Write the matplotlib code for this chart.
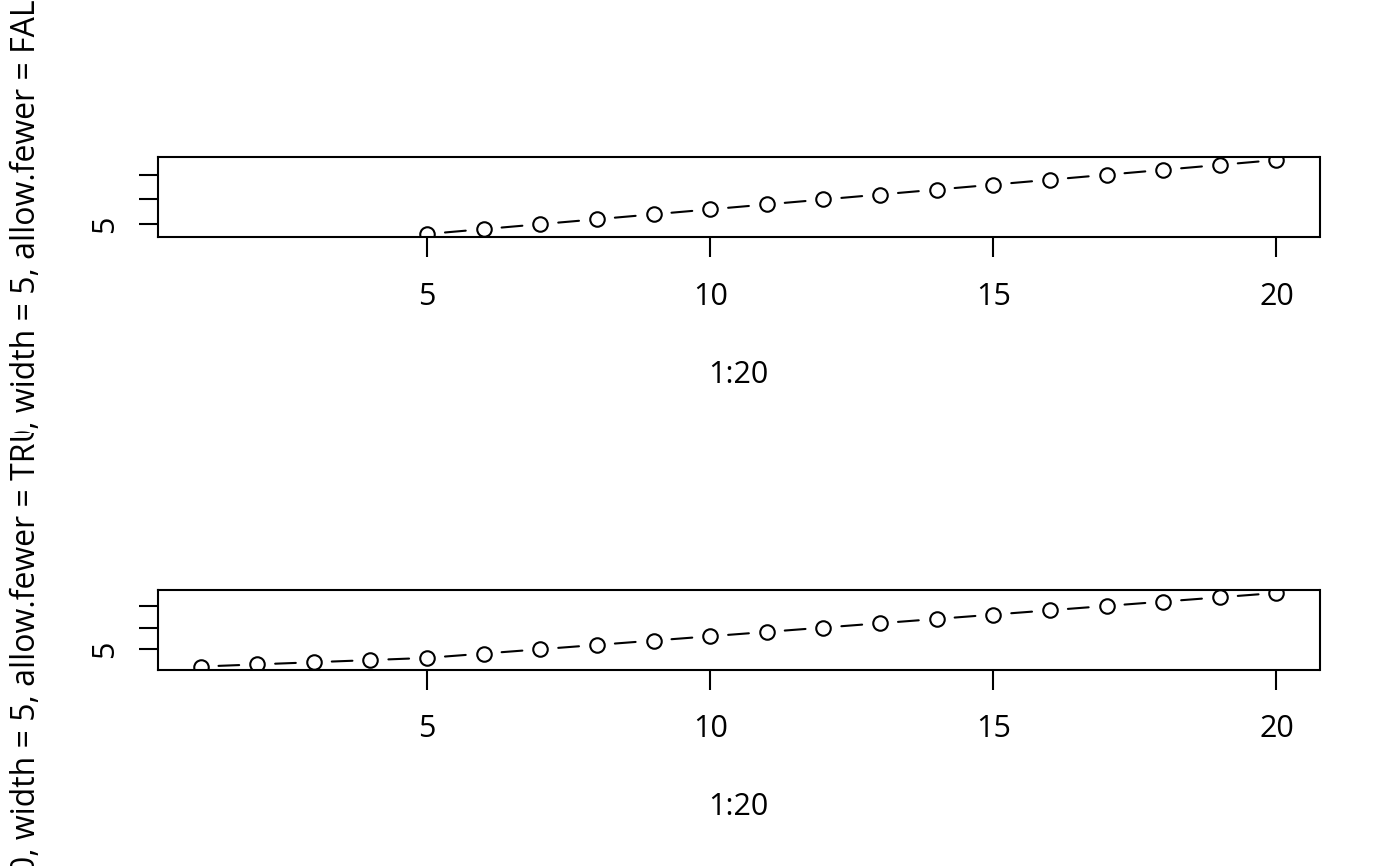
import numpy as np
import matplotlib
matplotlib.use("Agg")
import matplotlib.pyplot as plt
from matplotlib.transforms import Bbox, TransformedBbox

plt.rcParams['font.family'] = ['Open Sans', 'DejaVu Sans']

# ---- data ----
x = list(range(1, 21))
y_fewer_false = [np.nan, np.nan, np.nan, np.nan, 3, 4, 5, 6, 7, 8, 9, 10, 11, 12, 13, 14, 15, 16, 17, 18]
y_fewer_true = [1, 1.5, 2, 2.5, 3, 4, 5, 6, 7, 8, 9, 10, 11, 12, 13, 14, 15, 16, 17, 18]
x_ticks = [5, 10, 15, 20]
x_tick_labels = ['5', '10', '15', '20']
y_ticks = [5, 10, 15]
y_tick_labels = ['5', '', '']
x_label = '1:20'
y_labels = ['running(1:20, width = 5, allow.fewer = FALSE, pad = TRUE)',
            'running(1:20, width = 5, allow.fewer = TRUE, pad = TRUE)']

W, H = 1400, 866
fig = plt.figure(figsize=(W / 100, H / 100), dpi=100)

FS = 22
FS_YLAB = 23
LW = 1.5
px = lambda v: v * 72 / 100  # pixels -> points

def rlim(vals):
    v = np.asarray(vals, dtype=float)
    lo, hi = np.nanmin(v), np.nanmax(v)
    d = (hi - lo) * 0.04
    return lo - d, hi + d

panels = [(157, 237, y_fewer_false, y_labels[0], 0.5, 1.0),
          (590, 669.5, y_fewer_true, y_labels[1], 0.0, 0.5)]
left, right = 157.5, 1319.5

for top, bot, yv, ylab, c0, c1 in panels:
    ax = fig.add_axes([left / W, 1 - bot / H, (right - left) / W, (bot - top) / H])
    xs = np.asarray(x, dtype=float)
    ys = np.asarray(yv, dtype=float)
    ax.plot(xs, ys, linestyle='none', marker='o', markersize=px(14.5),
            markerfacecolor='none', markeredgecolor='black', markeredgewidth=LW)
    for i in range(len(xs) - 1):
        if np.isnan(ys[i]) or np.isnan(ys[i + 1]):
            continue
        ax.annotate('', xy=(xs[i + 1], ys[i + 1]), xytext=(xs[i], ys[i]),
                    arrowprops=dict(arrowstyle='-', color='black', lw=LW,
                                    shrinkA=px(18), shrinkB=px(18)))
    ax.set_xlim(*rlim(xs))
    ax.set_ylim(*rlim(ys))
    ax.set_xticks(x_ticks, x_tick_labels)
    ax.set_yticks(y_ticks, y_tick_labels)
    ax.tick_params(axis='both', direction='out', length=px(19.5), width=LW,
                   labelsize=FS, color='black')
    ax.tick_params(axis='x', pad=px(25))
    ax.tick_params(axis='y', pad=px(18), labelrotation=90)
    for lab in ax.get_yticklabels():
        lab.set_va('center')
    for s in ax.spines.values():
        s.set_linewidth(LW)
    ax.set_xlabel(x_label, fontsize=FS, labelpad=px(48))
    yc = (top + bot) / 2 - 4
    t = fig.text(35 / W, 1 - yc / H, ylab, rotation=90, rotation_mode='anchor',
                 ha='center', va='baseline', fontsize=FS_YLAB)
    t.set_clip_box(TransformedBbox(Bbox.from_extents(0, c0, 1, c1), fig.transFigure))
    t.set_clip_on(True)

fig.savefig('out.png', dpi=100)
